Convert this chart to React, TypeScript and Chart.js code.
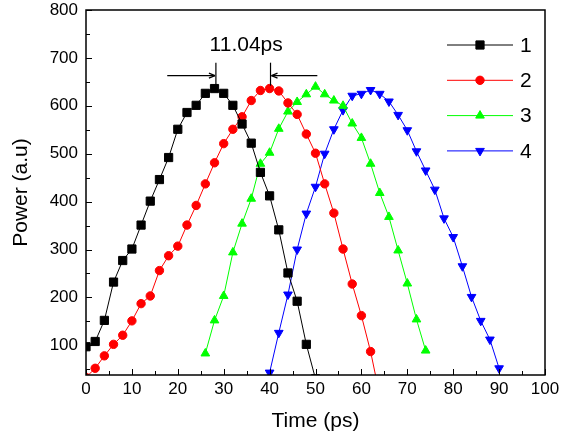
import React, { useEffect, useRef } from 'react';
import { Chart, registerables } from 'chart.js';
import { drawPoint } from 'chart.js/helpers';

Chart.register(...registerables);

const FONT = '"Liberation Sans", Arial, sans-serif';

// Series 1 (black squares)
const time1 = [0, 2, 4, 6, 8, 10, 12, 14, 16, 18, 20, 22, 24, 26, 28, 30, 32, 34, 36, 38, 40, 42, 44, 46, 48, 50];
const power1 = [97, 108, 152, 232, 277, 301, 351, 401, 446, 492, 551, 586, 601, 626, 636, 626, 601, 562, 522, 461, 412, 341, 251, 192, 102, 30];

// Series 2 (red circles)
const time2 = [0, 2, 4, 6, 8, 10, 12, 14, 16, 18, 20, 22, 24, 26, 28, 30, 32, 34, 36, 38, 40, 42, 44, 46, 48, 50, 52, 54, 56, 58, 60, 62, 64];
const power2 = [33, 52, 78, 102, 121, 151, 187, 203, 256, 287, 307, 351, 392, 437, 481, 521, 551, 577, 611, 632, 636, 631, 606, 582, 541, 501, 437, 376, 301, 228, 162, 87, -5];

// Series 3 (green up-triangles)
const time3 = [26, 28, 30, 32, 34, 36, 38, 40, 42, 44, 46, 48, 50, 52, 54, 56, 58, 60, 62, 64, 66, 68, 70, 72, 74];
const power3 = [83, 152, 203, 294, 354, 406, 479, 502, 552, 588, 608, 624, 640, 624, 611, 600, 563, 533, 479, 418, 368, 298, 229, 154, 89];

// Series 4 (blue down-triangles)
const time4 = [40, 42, 44, 46, 48, 50, 52, 54, 56, 58, 60, 62, 64, 66, 68, 70, 72, 74, 76, 78, 80, 82, 84, 86, 88, 90];
const power4 = [43, 126, 206, 300, 375, 431, 500, 551, 591, 621, 625, 633, 625, 609, 581, 549, 505, 465, 425, 365, 326, 265, 201, 151, 112, 52];

const seriesLabels = ['1', '2', '3', '4'];
const seriesColors = ['#000000', '#ff0000', '#00ff00', '#0000ff'];

const xTicks = [0, 10, 20, 30, 40, 50, 60, 70, 80, 90, 100];
const xMinorTicks = [5, 15, 25, 35, 45, 55, 65, 75, 85, 95];
const yTicks = [100, 200, 300, 400, 500, 600, 700, 800];
const yMinorTicks = [50, 150, 250, 350, 450, 550, 650, 750];

// Annotation: peak separation
const annotationText = '11.04ps';
const peakLeftTime = 28.3;
const peakRightTime = 40.2;
const arrowLevel = 663;
const markTop = 690;
const markBottom = 642;
const arrowLeftStart = 17.7;
const arrowRightStart = 50.4;
const annotationTextPos = [34.9, 727];

const toPoints = (t: number[], p: number[]) => t.map((v, i) => ({ x: v, y: p[i] }));

const framePlugin = {
  id: 'frameTicks',
  afterDraw(chart: any) {
    const { ctx, chartArea: a, scales } = chart;
    const x = scales.x;
    const y = scales.y;
    ctx.save();
    ctx.strokeStyle = '#000';
    ctx.lineWidth = 1;
    const line = (x1: number, y1: number, x2: number, y2: number) => {
      ctx.beginPath();
      ctx.moveTo(x1, y1);
      ctx.lineTo(x2, y2);
      ctx.stroke();
    };
    xTicks.forEach((v) => { const px = Math.round(x.getPixelForValue(v)) + 0.5; line(px, a.bottom, px, a.bottom - 6); });
    xMinorTicks.forEach((v) => { const px = Math.round(x.getPixelForValue(v)) + 0.5; line(px, a.bottom, px, a.bottom - 4); });
    yTicks.forEach((v) => { const py = Math.round(y.getPixelForValue(v)) + 0.5; line(a.left, py, a.left + 6, py); });
    yMinorTicks.forEach((v) => { const py = Math.round(y.getPixelForValue(v)) + 0.5; line(a.left, py, a.left + 4, py); });
    ctx.lineWidth = 1.5;
    ctx.strokeRect(a.left, a.top, a.right - a.left, a.bottom - a.top);
    ctx.restore();
  },
};

const legendPlugin = {
  id: 'lineLegend',
  afterDraw(chart: any) {
    const { ctx, chartArea: a } = chart;
    ctx.save();
    chart.data.datasets.forEach((ds: any, i: number) => {
      const rowY = a.top + 35 + i * 35.3;
      const x1 = a.right - 98;
      const x2 = a.right - 32;
      ctx.strokeStyle = ds.borderColor;
      ctx.lineWidth = 1;
      ctx.beginPath();
      ctx.moveTo(x1, rowY);
      ctx.lineTo(x2, rowY);
      ctx.stroke();
      ctx.fillStyle = ds.pointBackgroundColor;
      ctx.strokeStyle = ds.pointBorderColor;
      drawPoint(ctx, {
        pointStyle: ds.pointStyle,
        radius: ds.pointRadius,
        rotation: ds.pointRotation || 0,
        borderWidth: 1,
      } as any, (x1 + x2) / 2, rowY);
      ctx.fillStyle = '#000';
      ctx.font = `21px ${FONT}`;
      ctx.textAlign = 'left';
      ctx.textBaseline = 'middle';
      ctx.fillText(ds.label, x2 + 7, rowY + 1);
    });
    ctx.restore();
  },
};

const annotationPlugin = {
  id: 'peakAnnotation',
  afterDraw(chart: any) {
    const { ctx, scales } = chart;
    const x = scales.x;
    const y = scales.y;
    ctx.save();
    ctx.strokeStyle = '#000';
    ctx.lineWidth = 1.2;
    const line = (x1: number, y1: number, x2: number, y2: number) => {
      ctx.beginPath();
      ctx.moveTo(x1, y1);
      ctx.lineTo(x2, y2);
      ctx.stroke();
    };
    const lx = x.getPixelForValue(peakLeftTime);
    const rx = x.getPixelForValue(peakRightTime);
    const yTop = y.getPixelForValue(markTop);
    const yBot = y.getPixelForValue(markBottom);
    const ya = y.getPixelForValue(arrowLevel);
    line(lx, yTop, lx, yBot);
    line(rx, yTop, rx, yBot);
    const ls = x.getPixelForValue(arrowLeftStart);
    line(ls, ya, lx - 1, ya);
    line(lx - 1, ya, lx - 7, ya - 2.5);
    line(lx - 1, ya, lx - 7, ya + 2.5);
    const rs = x.getPixelForValue(arrowRightStart);
    line(rs, ya, rx + 1, ya);
    line(rx + 1, ya, rx + 7, ya - 2.5);
    line(rx + 1, ya, rx + 7, ya + 2.5);
    ctx.fillStyle = '#000';
    ctx.font = `21px ${FONT}`;
    ctx.textAlign = 'center';
    ctx.textBaseline = 'middle';
    ctx.fillText(annotationText, x.getPixelForValue(annotationTextPos[0]), y.getPixelForValue(annotationTextPos[1]));
    ctx.restore();
  },
};

export default function App() {
  const canvasRef = useRef<HTMLCanvasElement | null>(null);

  useEffect(() => {
    const canvas = canvasRef.current;
    if (!canvas) return;
    const times = [time1, time2, time3, time4];
    const powers = [power1, power2, power3, power4];
    const styles = ['rect', 'circle', 'triangle', 'triangle'];
    const radii = [5.8, 4.2, 5, 5];
    const rotations = [0, 0, 0, 180];
    const datasets = seriesLabels.map((label, i) => ({
      label,
      data: toPoints(times[i], powers[i]),
      borderColor: seriesColors[i],
      backgroundColor: seriesColors[i],
      pointBackgroundColor: seriesColors[i],
      pointBorderColor: seriesColors[i],
      pointStyle: styles[i],
      pointRadius: radii[i],
      pointRotation: rotations[i],
      pointBorderWidth: 1,
      borderWidth: 1,
      tension: 0,
      clip: 0,
    }));

    const chart = new Chart(canvas, {
      type: 'line',
      data: { datasets } as any,
      options: {
        animation: false,
        responsive: false,
        devicePixelRatio: 1,
        layout: { padding: { top: 10, right: 33, left: 0, bottom: 0 } },
        plugins: {
          legend: { display: false },
          tooltip: { enabled: false },
        },
        scales: {
          x: {
            type: 'linear',
            min: 0,
            max: 100,
            grid: { display: false, drawTicks: false },
            border: { display: false },
            afterBuildTicks: (scale: any) => { scale.ticks = xTicks.map((v) => ({ value: v })); },
            afterFit: (scale: any) => { scale.height = 65; scale.paddingLeft = 0; scale.paddingRight = 0; },
            ticks: { color: '#000', font: { family: FONT, size: 17 }, padding: 4, maxRotation: 0, autoSkip: false },
            title: { display: true, text: 'Time (ps)', color: '#000', font: { family: FONT, size: 21 }, padding: { top: 0, bottom: 6 } },
          },
          y: {
            type: 'linear',
            min: 38,
            max: 800,
            grid: { display: false, drawTicks: false },
            border: { display: false },
            afterBuildTicks: (scale: any) => { scale.ticks = yTicks.map((v) => ({ value: v })); },
            afterFit: (scale: any) => { scale.width = 86; scale.paddingTop = 0; scale.paddingBottom = 0; },
            ticks: { color: '#000', font: { family: FONT, size: 17 }, padding: 8, autoSkip: false },
            title: { display: true, text: 'Power (a.u)', color: '#000', font: { family: FONT, size: 21 }, padding: { top: 9, bottom: 0 } },
          },
        },
      } as any,
      plugins: [framePlugin, legendPlugin, annotationPlugin],
    });
    return () => chart.destroy();
  }, []);

  return (
    <div style={{ position: 'absolute', left: 0, top: 0, width: 578, height: 440, background: '#fff' }}>
      <canvas ref={canvasRef} width={578} height={440} style={{ width: 578, height: 440, display: 'block' }} />
    </div>
  );
}
